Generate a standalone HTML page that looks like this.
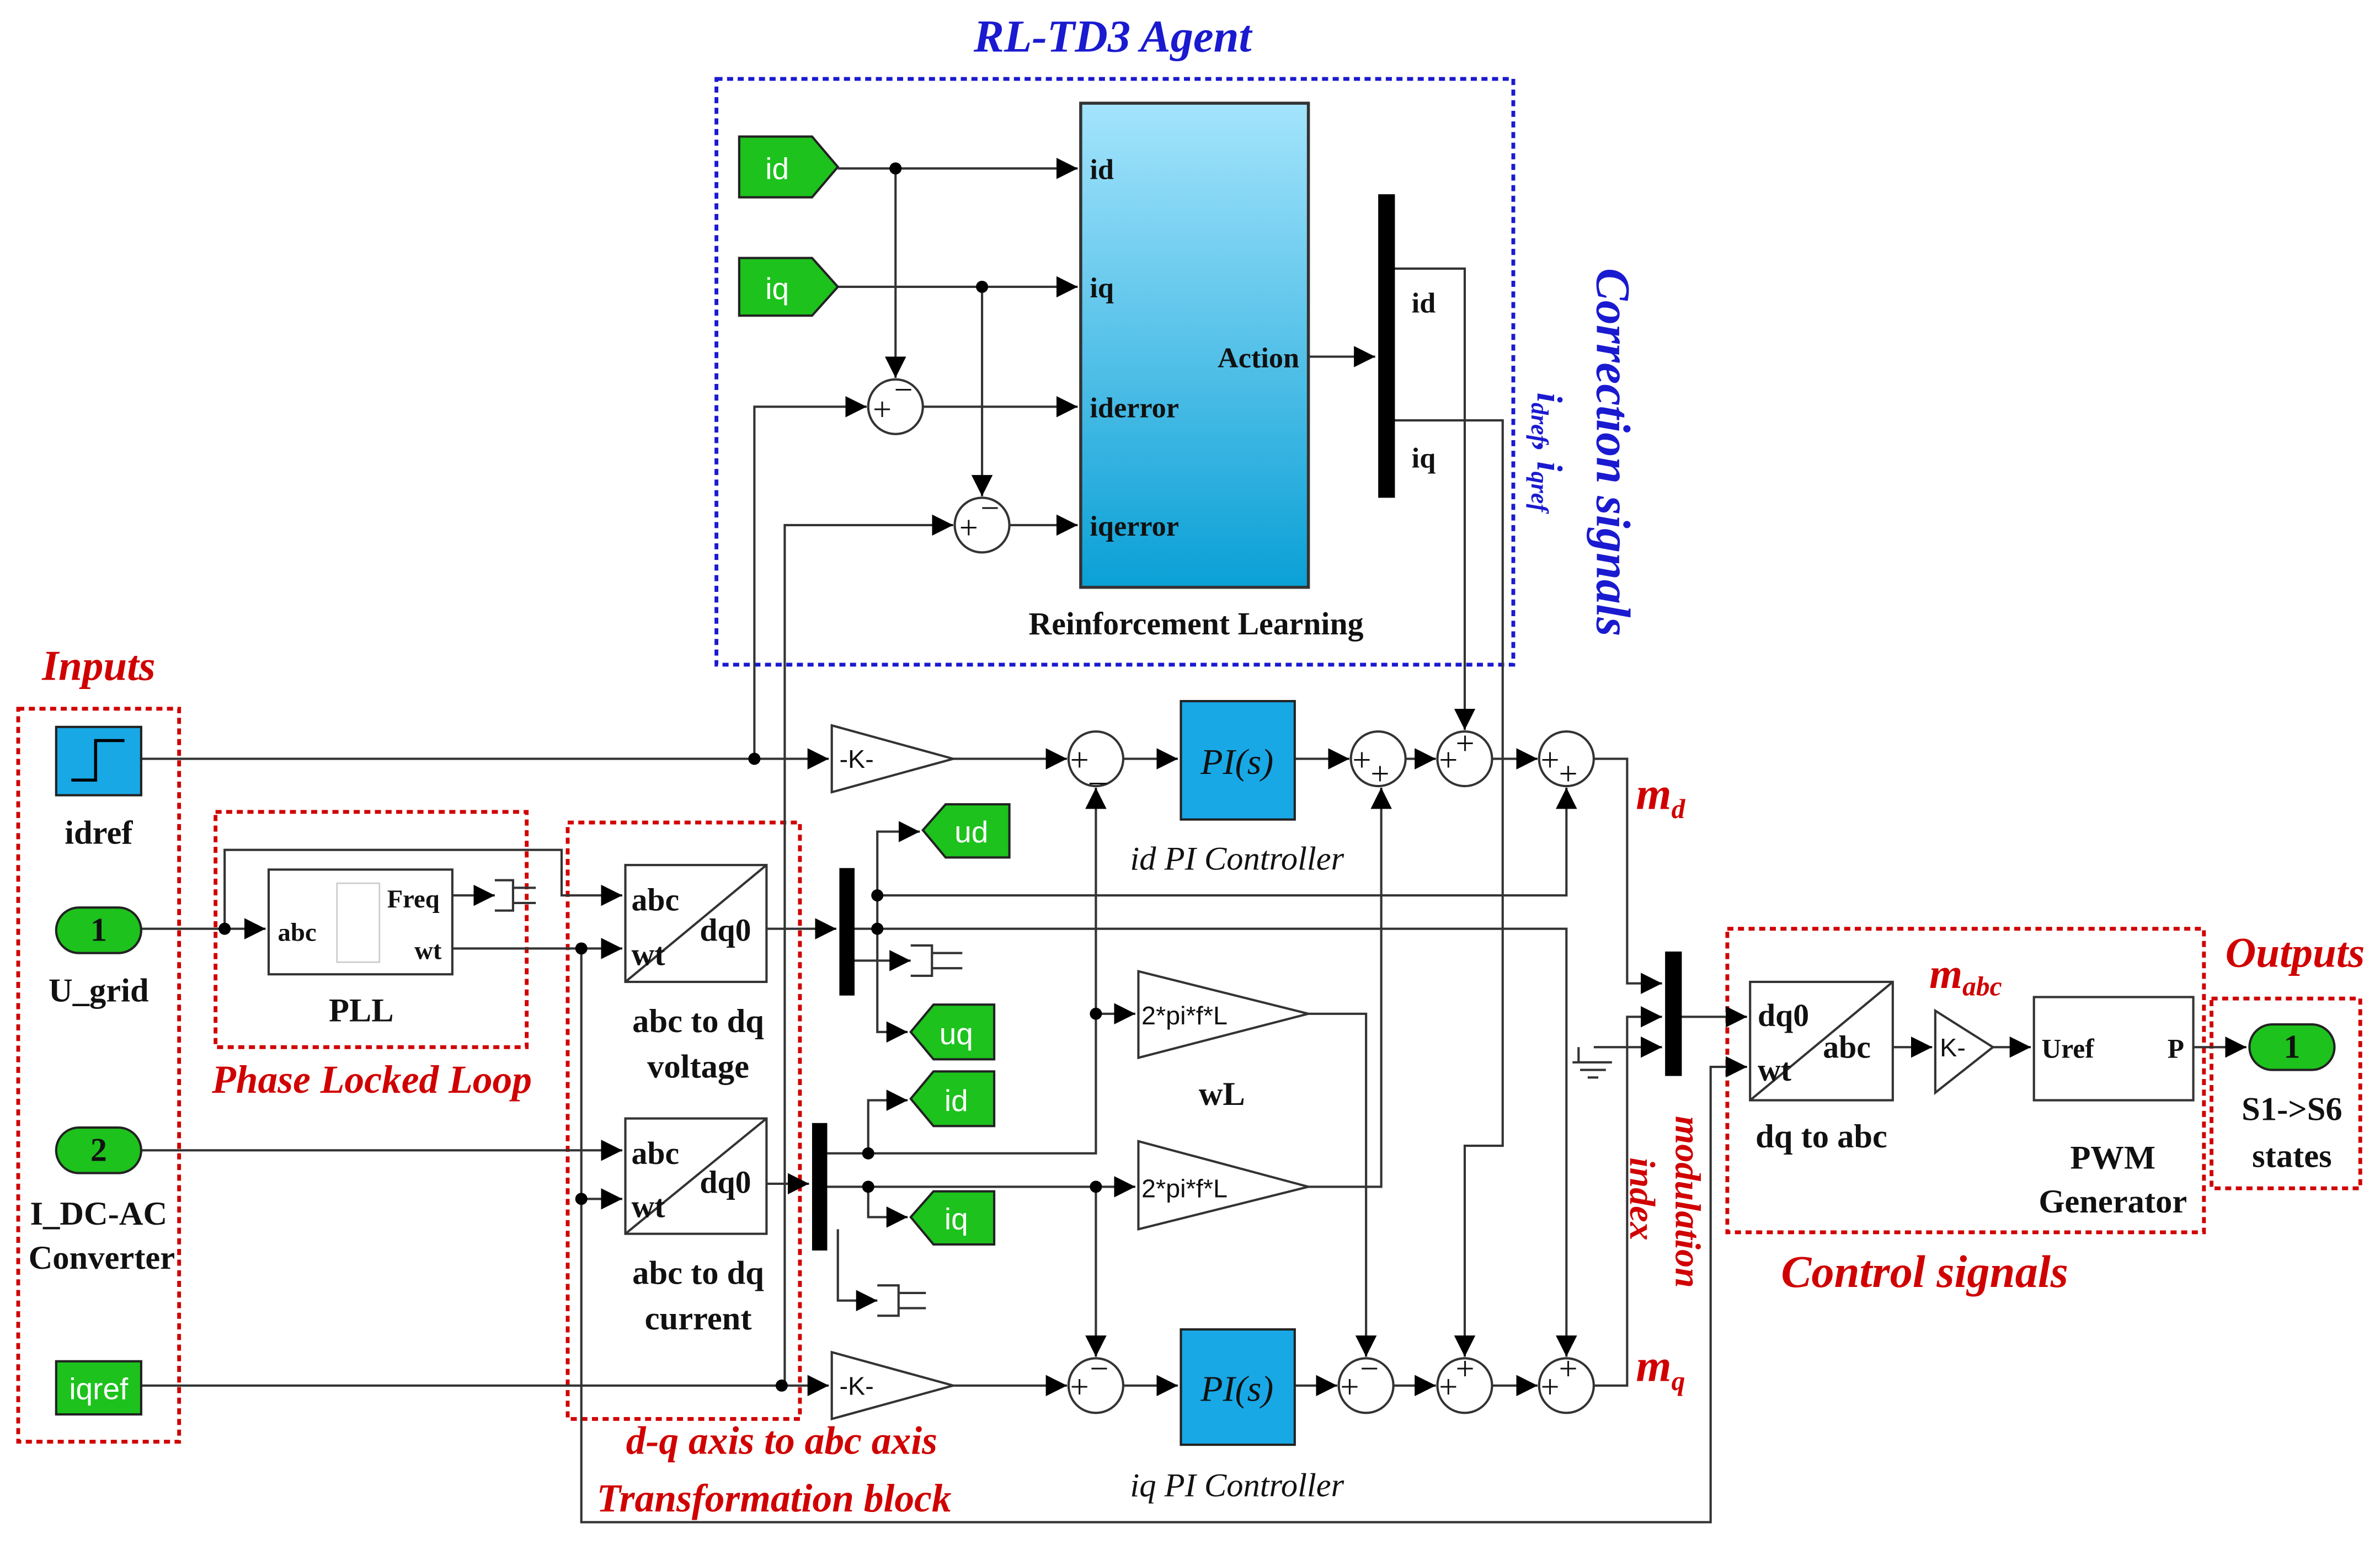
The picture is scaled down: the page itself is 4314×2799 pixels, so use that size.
<!DOCTYPE html>
<html><head><meta charset="utf-8"><style>html,body{margin:0;padding:0;background:#fff}svg{display:block}</style></head><body>
<svg width="4314" height="2799" viewBox="0 0 1568 1017.4" preserveAspectRatio="none" xmlns="http://www.w3.org/2000/svg" font-family="Liberation Serif, serif">
<defs>
<marker id="a" viewBox="0 0 10 10" refX="10" refY="5" markerWidth="14" markerHeight="14" markerUnits="userSpaceOnUse" orient="auto"><path d="M0,0L10,5L0,10z" fill="#000"/></marker>
<linearGradient id="g" x1="0" y1="0" x2="0" y2="1"><stop offset="0" stop-color="#a4e4fc"/><stop offset="1" stop-color="#0aa0d6"/></linearGradient>
</defs>
<rect width="1568" height="1018" fill="#fff"/>
<g fill="none" stroke="#1a1ad0" stroke-width="2.5" stroke-dasharray="4,3"><rect x="472" y="52" width="525" height="386"/></g>
<g fill="none" stroke="#d00000" stroke-width="2.5" stroke-dasharray="4,3">
<rect x="12" y="467" width="106" height="483"/><rect x="142" y="535" width="205" height="155"/><rect x="374" y="542" width="153" height="393"/>
<rect x="1138" y="612" width="314" height="200"/><rect x="1457" y="658" width="98" height="125"/></g>
<g fill="none" stroke="#333" stroke-width="1.5">
<path d="M552 111H710" marker-end="url(#a)"/><path d="M552 189H710" marker-end="url(#a)"/>
<path d="M590 111V249" marker-end="url(#a)"/><path d="M647 189V327" marker-end="url(#a)"/>
<path d="M608 268H710" marker-end="url(#a)"/><path d="M665 346H710" marker-end="url(#a)"/>
<path d="M497 500V268H571" marker-end="url(#a)"/><path d="M517 913V346H628" marker-end="url(#a)"/>
<path d="M862 235H906" marker-end="url(#a)"/>
<path d="M918 177H965V481" marker-end="url(#a)"/><path d="M918 277H990V755H965V894" marker-end="url(#a)"/>
<path d="M93 500H546" marker-end="url(#a)"/><path d="M628 500H703" marker-end="url(#a)"/><path d="M740 500H776" marker-end="url(#a)"/>
<path d="M853 500H889" marker-end="url(#a)"/><path d="M926 500H946" marker-end="url(#a)"/><path d="M983 500H1013" marker-end="url(#a)"/>
<path d="M1050 500H1072V648H1095" marker-end="url(#a)"/>
<path d="M93 913H546" marker-end="url(#a)"/><path d="M628 913H703" marker-end="url(#a)"/><path d="M740 913H776" marker-end="url(#a)"/>
<path d="M853 913H881" marker-end="url(#a)"/><path d="M918 913H946" marker-end="url(#a)"/><path d="M983 913H1013" marker-end="url(#a)"/>
<path d="M1050 913H1072V670H1095" marker-end="url(#a)"/>
<path d="M545 760H722V519" marker-end="url(#a)"/><path d="M722 668H748" marker-end="url(#a)"/>
<path d="M545 782H748" marker-end="url(#a)"/><path d="M722 782V894" marker-end="url(#a)"/>
<path d="M862 668H900V894" marker-end="url(#a)"/><path d="M862 782H910V519" marker-end="url(#a)"/>
<path d="M578 590H1032V519" marker-end="url(#a)"/><path d="M562 612H1032V894" marker-end="url(#a)"/>
<path d="M1050 690H1095" marker-end="url(#a)"/>
<path d="M1040 690V700M1036 700H1062M1041 705H1058M1046 710H1053"/>
<path d="M1107 670H1151" marker-end="url(#a)"/><path d="M383 625V1003H1127V703H1151" marker-end="url(#a)"/>
<path d="M1247 690H1273" marker-end="url(#a)"/><path d="M1313 690H1338" marker-end="url(#a)"/><path d="M1445 690H1480" marker-end="url(#a)"/>
<path d="M93 612H175" marker-end="url(#a)"/><path d="M148 612V560H370V590H410" marker-end="url(#a)"/>
<path d="M298 590H326" marker-end="url(#a)"/><path d="M326 580h12v20h-12M338 585h15M338 595h15"/>
<path d="M298 625H410" marker-end="url(#a)"/><path d="M383 790H410" marker-end="url(#a)"/>
<path d="M93 758H410" marker-end="url(#a)"/>
<path d="M505 612H551" marker-end="url(#a)"/><path d="M505 780H533" marker-end="url(#a)"/>
<path d="M578 590V548H606" marker-end="url(#a)"/><path d="M578 590V680H598" marker-end="url(#a)"/><path d="M562 633H600" marker-end="url(#a)"/>
<path d="M600 623h14v20h-14M614 628h20M614 638h20"/>
<path d="M572 760V725H598" marker-end="url(#a)"/><path d="M572 782V802H598" marker-end="url(#a)"/><path d="M552 810V857H578" marker-end="url(#a)"/>
<path d="M578 847h14v20h-14M592 852h18M592 862h18"/>
</g>
<g fill="#000">
<circle cx="590" cy="111" r="4"/><circle cx="647" cy="189" r="4"/><circle cx="497" cy="500" r="4"/><circle cx="515" cy="913" r="4"/>
<circle cx="722" cy="668" r="4"/><circle cx="722" cy="782" r="4"/><circle cx="572" cy="760" r="4"/><circle cx="572" cy="782" r="4"/>
<circle cx="578" cy="590" r="4"/><circle cx="578" cy="612" r="4"/><circle cx="148" cy="612" r="4"/><circle cx="383" cy="625" r="4"/><circle cx="383" cy="790" r="4"/>
<rect x="908" y="128" width="11" height="200"/><rect x="553" y="572" width="10" height="84"/><rect x="535" y="740" width="10" height="84"/><rect x="1097" y="627" width="11" height="82"/>
</g>
<rect x="712" y="68" width="150" height="319" fill="url(#g)" stroke="#333" stroke-width="2"/>
<g font-weight="bold" font-size="19" fill="#111">
<text x="718" y="118">id</text><text x="718" y="196">iq</text><text x="718" y="275">iderror</text><text x="718" y="353">iqerror</text>
<text x="856" y="242" text-anchor="end">Action</text><text x="930" y="206">id</text><text x="930" y="308">iq</text>
<text x="788" y="418" text-anchor="middle" font-size="21">Reinforcement Learning</text>
</g>
<g fill="#1dc21d" stroke="#222" stroke-width="1.5">
<path d="M487 90H535L552 110L535 130H487Z"/><path d="M487 170H535L552 189L535 208H487Z"/>
<path d="M665 530H623L608 547L623 565H665Z"/><path d="M655 662H615L600 680L615 698H655Z"/>
<path d="M655 706H615L600 724L615 742H655Z"/><path d="M655 785H615L600 802L615 820H655Z"/>
<rect x="37" y="897" width="56" height="35"/>
<rect x="37" y="598" width="56" height="30" rx="15"/><rect x="37" y="743" width="56" height="30" rx="15"/><rect x="1482" y="675" width="56" height="30" rx="15"/>
</g>
<g font-family="Liberation Sans, sans-serif" font-size="20" fill="#fff" text-anchor="middle">
<text x="512" y="118">id</text><text x="512" y="197">iq</text><text x="640" y="555">ud</text><text x="630" y="688">uq</text><text x="630" y="732">id</text><text x="630" y="810">iq</text><text x="65" y="922">iqref</text>
</g>
<g font-weight="bold" font-size="22" text-anchor="middle" fill="#111"><text x="65" y="620">1</text><text x="65" y="765">2</text><text x="1510" y="697">1</text></g>
<rect x="37" y="479" width="56" height="45" fill="#18a8e6" stroke="#222" stroke-width="1.5"/>
<path d="M47 514H63V488H82" fill="none" stroke="#000" stroke-width="2"/>
<g fill="#fff" stroke="#333" stroke-width="1.5">
<path d="M548 478L628 500L548 522Z"/><path d="M548 891L628 913L548 935Z"/>
<path d="M750 640L862 668L750 697Z"/><path d="M750 752L862 782L750 810Z"/><path d="M1275 666L1313 690L1275 720Z"/>
<circle cx="590" cy="268" r="18"/><circle cx="647" cy="346" r="18"/>
<circle cx="722" cy="500" r="18"/><circle cx="908" cy="500" r="18"/><circle cx="965" cy="500" r="18"/><circle cx="1032" cy="500" r="18"/>
<circle cx="722" cy="913" r="18"/><circle cx="900" cy="913" r="18"/><circle cx="965" cy="913" r="18"/><circle cx="1032" cy="913" r="18"/>
<rect x="177" y="573" width="121" height="69"/><rect x="412" y="570" width="93" height="77"/><rect x="412" y="737" width="93" height="76"/>
<rect x="1153" y="647" width="94" height="78"/><rect x="1340" y="657" width="105" height="68"/>
</g>
<rect x="222" y="582" width="28" height="52" fill="none" stroke="#ccc"/>
<g stroke="#333" stroke-width="1.5"><path d="M412 647L505 570M412 813L505 737M1153 725L1247 647"/></g>
<rect x="778" y="462" width="75" height="78" fill="#18a8e6" stroke="#222" stroke-width="1.5"/>
<rect x="778" y="876" width="75" height="76" fill="#18a8e6" stroke="#222" stroke-width="1.5"/>
<g font-family="Liberation Sans, sans-serif" font-size="17" fill="#111">
<text x="553" y="506">-K-</text><text x="553" y="919">-K-</text><text x="752" y="675">2*pi*f*L</text><text x="752" y="789">2*pi*f*L</text><text x="1278" y="696">K-</text>
<g font-family="Liberation Serif, serif" font-size="22">
<text x="575" y="277">+</text><text x="589" y="264">−</text><text x="632" y="355">+</text><text x="646" y="342">−</text>
<text x="705" y="508">+</text><text x="718" y="514">_</text><text x="891" y="508">+</text><text x="903" y="517">+</text><text x="948" y="508">+</text><text x="959" y="497">+</text><text x="1015" y="508">+</text><text x="1027" y="517">+</text>
<text x="705" y="921">+</text><text x="718" y="909">−</text><text x="883" y="921">+</text><text x="896" y="909">−</text><text x="948" y="921">+</text><text x="959" y="909">+</text><text x="1015" y="921">+</text><text x="1027" y="909">+</text>
</g></g>
<g font-style="italic" font-size="24" fill="#111" text-anchor="middle"><text x="815" y="510">PI(s)</text><text x="815" y="923">PI(s)</text></g>
<g font-weight="bold" font-size="20" fill="#111">
<text x="183" y="620" font-size="17">abc</text><text x="255" y="598" font-size="17">Freq</text><text x="273" y="632" font-size="17">wt</text>
<text x="416" y="600" font-size="21">abc</text><text x="416" y="636" font-size="21">wt</text><text x="461" y="620" font-size="21">dq0</text>
<text x="416" y="767" font-size="21">abc</text><text x="416" y="802" font-size="21">wt</text><text x="461" y="786" font-size="21">dq0</text>
<text x="1158" y="676" font-size="21">dq0</text><text x="1158" y="712" font-size="21">wt</text><text x="1201" y="697" font-size="21">abc</text>
<text x="1345" y="697" font-size="18">Uref</text><text x="1428" y="697" font-size="18">P</text>
</g>
<g font-weight="bold" font-size="22" fill="#111" text-anchor="middle">
<text x="65" y="556">idref</text><text x="65" y="660">U_grid</text><text x="65" y="807">I_DC-AC</text><text x="67" y="836">Converter</text>
<text x="238" y="673">PLL</text><text x="460" y="680">abc to dq</text><text x="460" y="710">voltage</text><text x="460" y="846">abc to dq</text><text x="460" y="876">current</text>
<text x="805" y="728">wL</text><text x="1200" y="756">dq to abc</text><text x="1392" y="770">PWM</text><text x="1392" y="799">Generator</text>
<text x="1510" y="738">S1-&gt;S6</text><text x="1510" y="769">states</text>
</g>
<g font-style="italic" font-size="22" fill="#111" text-anchor="middle"><text x="815" y="573">id PI Controller</text><text x="815" y="986">iq PI Controller</text></g>
<g font-style="italic" font-weight="bold" fill="#d00000" text-anchor="middle">
<text x="65" y="448" font-size="28">Inputs</text><text x="245" y="720" font-size="26">Phase Locked Loop</text>
<text x="515" y="958" font-size="26">d-q axis to abc axis</text><text x="510" y="996" font-size="26">Transformation block</text>
<text x="1268" y="848" font-size="30">Control signals</text><text x="1512" y="637" font-size="28">Outputs</text>
<text x="1094" y="533" font-size="30">m<tspan font-size="18" dy="6">d</tspan></text>
<text x="1094" y="910" font-size="30">m<tspan font-size="18" dy="6">q</tspan></text>
<text x="1295" y="651" font-size="28">m<tspan font-size="18" dy="5">abc</tspan></text>
<text transform="translate(1104,792) rotate(90)" font-size="24">modulation</text>
<text transform="translate(1074,790) rotate(90)" font-size="24">index</text>
</g>
<g font-style="italic" font-weight="bold" fill="#1a1ad0" text-anchor="middle">
<text x="733" y="34" font-size="30">RL-TD3 Agent</text>
<text transform="translate(1052,298) rotate(90)" font-size="32">Correction signals</text>
<text transform="translate(1013,298) rotate(90)" font-size="24">i<tspan font-size="16" dy="4">dref</tspan><tspan dy="-4">, i</tspan><tspan font-size="16" dy="4">qref</tspan></text>
</g>
</svg>
</body></html>
